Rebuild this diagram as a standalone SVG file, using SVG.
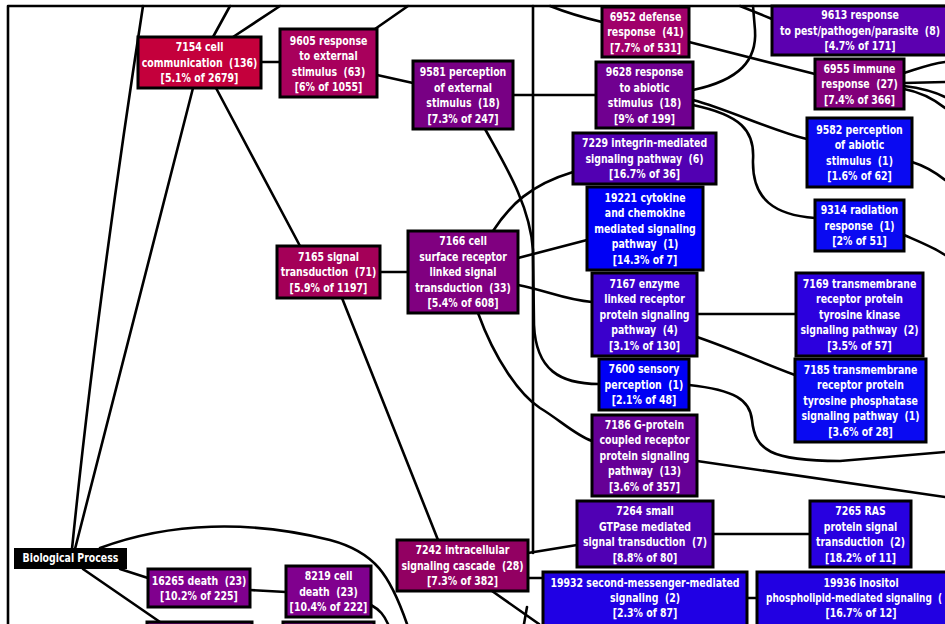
<svg xmlns="http://www.w3.org/2000/svg" width="945" height="624" viewBox="0 0 945 624">
<style>
.bg{fill:#ffffff}
.e{fill:none;stroke:#000;stroke-width:2.6;stroke-linecap:round}
.b{stroke:#000;stroke-width:3}
.t{fill:#fff;font-family:"DejaVu Sans Condensed","DejaVu Sans","Liberation Sans",sans-serif;font-weight:bold;font-size:12px;text-anchor:middle;white-space:pre}
.s{text-anchor:start}
</style>
<rect class="bg" x="0" y="0" width="945" height="624"/>
<g id="connectors">
<path class="e" d="M8,6 H945 M8,6 V624"/>
<path class="e" d="M533,6 V553"/>
<path class="e" d="M72,549 C85,420 110,220 143,6"/>
<path class="e" d="M75,549 L193,88"/>
<path class="e" d="M213,37 L230,6"/>
<path class="e" d="M233,37 L280,6"/>
<path class="e" d="M261,62 L280,62"/>
<path class="e" d="M216,88 L300,246"/>
<path class="e" d="M375,29 L408,6"/>
<path class="e" d="M377,75 L413,83"/>
<path class="e" d="M513,95 L596,95"/>
<path class="e" d="M485,129 C505,165 530,205 533,250 L534,325 C536,370 560,384 599,384"/>
<path class="e" d="M493,231 C510,205 530,185 573,172"/>
<path class="e" d="M518,258 L587,240"/>
<path class="e" d="M518,285 C545,290 565,300 592,302"/>
<path class="e" d="M478,313 C495,360 520,395 540,408 C560,420 575,435 592,441"/>
<path class="e" d="M380,272 L408,272"/>
<path class="e" d="M342,298 L438,540"/>
<path class="e" d="M528,553 L577,545"/>
<path class="e" d="M528,578 L543,578"/>
<path class="e" d="M713,534 L810,534"/>
<path class="e" d="M747,598 L757,598"/>
<path class="e" d="M697,461 L945,497"/>
<path class="e" d="M689,385 C735,390 750,400 752,420 C755,450 770,461 840,461 L945,452"/>
<path class="e" d="M697,314 L796,314"/>
<path class="e" d="M697,337 C735,350 760,362 795,375"/>
<path class="e" d="M602,22 C585,18 565,12 550,6"/>
<path class="e" d="M689,42 L815,74"/>
<path class="e" d="M693,90 C740,80 757,60 755,30 L753,6"/>
<path class="e" d="M740,6 C755,12 762,15 772,19"/>
<path class="e" d="M693,100 C730,110 770,130 807,139"/>
<path class="e" d="M693,105 C740,115 755,130 753,160 C752,200 775,215 815,218"/>
<path class="e" d="M904,73 C920,68 930,64 945,62"/>
<path class="e" d="M904,83 L945,82"/>
<path class="e" d="M904,86 C920,88 935,92 945,97"/>
<path class="e" d="M904,89 C920,92 935,100 945,108"/>
<path class="e" d="M912,162 C925,166 935,172 945,180"/>
<path class="e" d="M904,235 C920,242 935,248 945,255"/>
<path class="e" d="M100,548 C170,522 250,520 330,540 C375,552 390,575 407,624"/>
<path class="e" d="M83,569 L160,622"/>
<path class="e" d="M120,569 L148,578"/>
<path class="e" d="M250,590 L286,592"/>
<path class="e" d="M371,605 C380,610 384,615 388,624"/>
<path class="e" d="M492,591 L539,624"/>
<path class="e" d="M527,607 L524,624"/>
</g>
<g id="n7154"><rect class="b" x="138" y="37" width="123" height="51" fill="#C4003C"/>
<g transform="translate(199.5,0) scale(0.87,1)"><text class="t" x="0" y="51.5">7154 cell</text><text class="t" x="0" y="67">communication  (136)</text><text class="t" x="0" y="82.5">[5.1% of 2679]</text></g></g>
<g id="n9605"><rect class="b" x="280" y="29" width="97" height="68" fill="#A8005C"/>
<g transform="translate(328.5,0) scale(0.87,1)"><text class="t" x="0" y="45">9605 response</text><text class="t" x="0" y="60.5">to external</text><text class="t" x="0" y="76">stimulus  (63)</text><text class="t" x="0" y="91.5">[6% of 1055]</text></g></g>
<g id="n9581"><rect class="b" x="413" y="61" width="100" height="68" fill="#780084"/>
<g transform="translate(463,0) scale(0.87,1)"><text class="t" x="0" y="76.5">9581 perception</text><text class="t" x="0" y="92">of external</text><text class="t" x="0" y="107.5">stimulus  (18)</text><text class="t" x="0" y="123">[7.3% of 247]</text></g></g>
<g id="n6952"><rect class="b" x="602" y="7" width="87" height="50" fill="#A0006A"/>
<g transform="translate(645.5,0) scale(0.87,1)"><text class="t" x="0" y="21">6952 defense</text><text class="t" x="0" y="36.5">response  (41)</text><text class="t" x="0" y="52">[7.7% of 531]</text></g></g>
<g id="n9613"><rect class="b" x="772" y="6" width="176" height="49" fill="#5C00B0"/>
<g transform="translate(860,0) scale(0.87,1)"><text class="t" x="0" y="19.5">9613 response</text><text class="t" x="0" y="35">to pest/pathogen/parasite  (8)</text><text class="t" x="0" y="50.5">[4.7% of 171]</text></g></g>
<g id="n9628"><rect class="b" x="596" y="62" width="97" height="66" fill="#700090"/>
<g transform="translate(644.5,0) scale(0.87,1)"><text class="t" x="0" y="76.25">9628 response</text><text class="t" x="0" y="91.75">to abiotic</text><text class="t" x="0" y="107.25">stimulus  (18)</text><text class="t" x="0" y="122.75">[9% of 199]</text></g></g>
<g id="n6955"><rect class="b" x="815" y="59" width="89" height="50" fill="#82007A"/>
<g transform="translate(859.5,0) scale(0.87,1)"><text class="t" x="0" y="73">6955 immune</text><text class="t" x="0" y="88.5">response  (27)</text><text class="t" x="0" y="104">[7.4% of 366]</text></g></g>
<g id="n7229"><rect class="b" x="573" y="133" width="143" height="51" fill="#5200B2"/>
<g transform="translate(644.5,0) scale(0.87,1)"><text class="t" x="0" y="147.5">7229 integrin-mediated</text><text class="t" x="0" y="163">signaling pathway  (6)</text><text class="t" x="0" y="178.5">[16.7% of 36]</text></g></g>
<g id="n19221"><rect class="b" x="587" y="187" width="116" height="83" fill="#0000F5"/>
<g transform="translate(645,0) scale(0.87,1)"><text class="t" x="0" y="202">19221 cytokine</text><text class="t" x="0" y="217.5">and chemokine</text><text class="t" x="0" y="233">mediated signaling</text><text class="t" x="0" y="248.5">pathway  (1)</text><text class="t" x="0" y="264">[14.3% of 7]</text></g></g>
<g id="n9582"><rect class="b" x="807" y="118" width="105" height="69" fill="#0A0AF2"/>
<g transform="translate(859.5,0) scale(0.87,1)"><text class="t" x="0" y="133.75">9582 perception</text><text class="t" x="0" y="149.25">of abiotic</text><text class="t" x="0" y="164.75">stimulus  (1)</text><text class="t" x="0" y="180.25">[1.6% of 62]</text></g></g>
<g id="n9314"><rect class="b" x="815" y="200" width="89" height="51" fill="#0A0AF2"/>
<g transform="translate(859.5,0) scale(0.87,1)"><text class="t" x="0" y="214.5">9314 radiation</text><text class="t" x="0" y="230">response  (1)</text><text class="t" x="0" y="245.5">[2% of 51]</text></g></g>
<g id="n7165"><rect class="b" x="277" y="246" width="103" height="52" fill="#A40058"/>
<g transform="translate(328.5,0) scale(0.87,1)"><text class="t" x="0" y="261">7165 signal</text><text class="t" x="0" y="276.5">transduction  (71)</text><text class="t" x="0" y="292">[5.9% of 1197]</text></g></g>
<g id="n7166"><rect class="b" x="408" y="231" width="110" height="82" fill="#800080"/>
<g transform="translate(463,0) scale(0.87,1)"><text class="t" x="0" y="245.5">7166 cell</text><text class="t" x="0" y="261">surface receptor</text><text class="t" x="0" y="276.5">linked signal</text><text class="t" x="0" y="292">transduction  (33)</text><text class="t" x="0" y="307.5">[5.4% of 608]</text></g></g>
<g id="n7167"><rect class="b" x="592" y="273" width="105" height="83" fill="#3A00CC"/>
<g transform="translate(644.5,0) scale(0.87,1)"><text class="t" x="0" y="288">7167 enzyme</text><text class="t" x="0" y="303.5">linked receptor</text><text class="t" x="0" y="319">protein signaling</text><text class="t" x="0" y="334.5">pathway  (4)</text><text class="t" x="0" y="350">[3.1% of 130]</text></g></g>
<g id="n7169"><rect class="b" x="796" y="273" width="127" height="83" fill="#2C00DE"/>
<g transform="translate(859.5,0) scale(0.87,1)"><text class="t" x="0" y="288">7169 transmembrane</text><text class="t" x="0" y="303.5">receptor protein</text><text class="t" x="0" y="319">tyrosine kinase</text><text class="t" x="0" y="334.5">signaling pathway  (2)</text><text class="t" x="0" y="350">[3.5% of 57]</text></g></g>
<g id="n7600"><rect class="b" x="599" y="359" width="90" height="51" fill="#0000F5"/>
<g transform="translate(644,0) scale(0.87,1)"><text class="t" x="0" y="373.5">7600 sensory</text><text class="t" x="0" y="389">perception  (1)</text><text class="t" x="0" y="404.5">[2.1% of 48]</text></g></g>
<g id="n7185"><rect class="b" x="795" y="359" width="131" height="83" fill="#0A0AF2"/>
<g transform="translate(860.5,0) scale(0.87,1)"><text class="t" x="0" y="374">7185 transmembrane</text><text class="t" x="0" y="389.5">receptor protein</text><text class="t" x="0" y="405">tyrosine phosphatase</text><text class="t" x="0" y="420.5">signaling pathway  (1)</text><text class="t" x="0" y="436">[3.6% of 28]</text></g></g>
<g id="n7186"><rect class="b" x="592" y="415" width="105" height="81" fill="#660096"/>
<g transform="translate(644.5,0) scale(0.87,1)"><text class="t" x="0" y="429">7186 G-protein</text><text class="t" x="0" y="444.5">coupled receptor</text><text class="t" x="0" y="460">protein signaling</text><text class="t" x="0" y="475.5">pathway  (13)</text><text class="t" x="0" y="491">[3.6% of 357]</text></g></g>
<g id="n7264"><rect class="b" x="577" y="501" width="136" height="66" fill="#5000B4"/>
<g transform="translate(645,0) scale(0.87,1)"><text class="t" x="0" y="515.25">7264 small</text><text class="t" x="0" y="530.75">GTPase mediated</text><text class="t" x="0" y="546.25">signal transduction  (7)</text><text class="t" x="0" y="561.75">[8.8% of 80]</text></g></g>
<g id="n7265"><rect class="b" x="810" y="501" width="101" height="66" fill="#2800E0"/>
<g transform="translate(860.5,0) scale(0.87,1)"><text class="t" x="0" y="515.25">7265 RAS</text><text class="t" x="0" y="530.75">protein signal</text><text class="t" x="0" y="546.25">transduction  (2)</text><text class="t" x="0" y="561.75">[18.2% of 11]</text></g></g>
<g id="n7242"><rect class="b" x="397" y="540" width="131" height="51" fill="#920062"/>
<g transform="translate(462.5,0) scale(0.87,1)"><text class="t" x="0" y="554.5">7242 intracellular</text><text class="t" x="0" y="570">signaling cascade  (28)</text><text class="t" x="0" y="585.5">[7.3% of 382]</text></g></g>
<g id="n19932"><rect class="b" x="543" y="572" width="204" height="60" fill="#2000E4"/>
<g transform="translate(645,0) scale(0.87,1)"><text class="t" x="0" y="587.5">19932 second-messenger-mediated</text><text class="t" x="0" y="602.5">signaling  (2)</text><text class="t" x="0" y="617">[2.3% of 87]</text></g></g>
<g id="n19936"><rect class="b" x="757" y="572" width="208" height="60" fill="#2200E2"/>
<g transform="translate(861,0) scale(0.87,1)"><text class="t" x="0" y="587.5">19936 inositol</text><text class="t" x="0" y="617">[16.7% of 12]</text></g>
<g transform="translate(766,0) scale(0.83,1)"><text class="t s" x="0" y="602.5">phospholipid-mediated signaling  (</text></g></g>
<g id="root"><rect x="14" y="548" width="113" height="21" fill="#000"/>
<g transform="translate(70.5,0) scale(0.87,1)"><text class="t" x="0" y="562.5">Biological Process</text></g></g>
<g id="n16265"><rect class="b" x="148" y="569" width="102" height="38" fill="#80008E"/>
<g transform="translate(199,0) scale(0.87,1)"><text class="t" x="0" y="584.75">16265 death  (23)</text><text class="t" x="0" y="600.25">[10.2% of 225]</text></g></g>
<g id="n8219"><rect class="b" x="286" y="566" width="85" height="51" fill="#80008E"/>
<g transform="translate(328.5,0) scale(0.87,1)"><text class="t" x="0" y="580.5">8219 cell</text><text class="t" x="0" y="596">death  (23)</text><text class="t" x="0" y="611.5">[10.4% of 222]</text></g></g>
<g id="nb1"><rect class="b" x="147" y="622" width="105" height="20" fill="#80008E"/></g>
<g id="nb2"><rect class="b" x="283" y="622" width="91" height="20" fill="#80008E"/></g>
</svg>
